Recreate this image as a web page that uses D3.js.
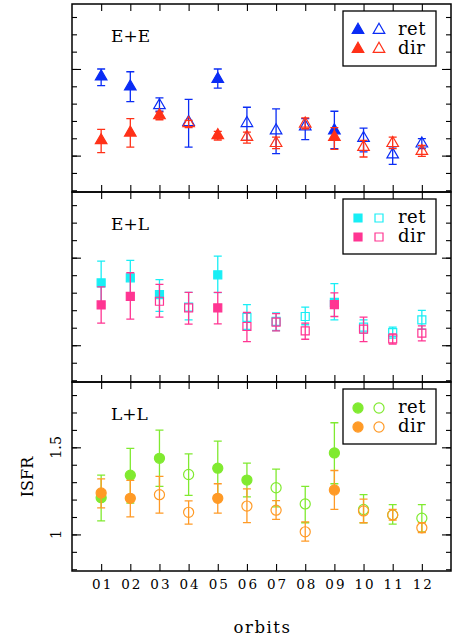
<!DOCTYPE html>
<html>
<head>
<meta charset="utf-8">
<script src="https://cdn.jsdelivr.net/npm/d3@7"></script>
<style>
  body { margin: 0; background: #fff; }
  text { font-family: "DejaVu Serif", serif; fill: #000; }
</style>
</head>
<body>
<svg width="456" height="639"></svg>
<script>
// orbit labels
const orbits = ['01','02','03','04','05','06','07','08','09','10','11','12'];

// E+E
const eeRet      = [1.456, 1.398, 1.290, 1.193, 1.442, 1.187, 1.145, 1.168, 1.145, 1.101, 1.006, 1.069];
const eeRetLo    = [1.404, 1.312, 1.256, 1.049, 1.389, 1.088, 1.011, 1.092, 1.040, 1.021, 0.950, 1.040];
const eeRetHi    = [1.500, 1.484, 1.333, 1.324, 1.500, 1.279, 1.270, 1.213, 1.256, 1.159, 1.050, 1.098];
const eeRetSolid = [1, 1, 0, 0, 1, 0, 0, 0, 1, 0, 0, 0];
const eeDir      = [1.088, 1.132, 1.232, 1.187, 1.117, 1.107, 1.072, 1.184, 1.107, 1.049, 1.072, 1.026];
const eeDirLo    = [1.017, 1.049, 1.207, 1.161, 1.090, 1.072, 1.040, 1.155, 1.036, 0.992, 1.040, 0.996];
const eeDirHi    = [1.151, 1.213, 1.251, 1.203, 1.140, 1.136, 1.107, 1.218, 1.161, 1.088, 1.107, 1.059];
const eeDirSolid = [1, 1, 1, 0, 1, 0, 0, 0, 1, 0, 0, 0];

// E+L
const elRet      = [1.356, 1.385, 1.289, 1.218, 1.402, 1.159, 1.136, 1.164, 1.245, 1.103, 1.072, 1.145];
const elRetLo    = [1.230, 1.280, 1.193, 1.145, 1.300, 1.090, 1.084, 1.117, 1.145, 1.069, 1.040, 1.092];
const elRetHi    = [1.480, 1.485, 1.375, 1.302, 1.509, 1.232, 1.184, 1.218, 1.352, 1.145, 1.103, 1.199];
const elRetSolid = [1, 1, 1, 0, 1, 0, 0, 0, 1, 0, 0, 0];
const elDir      = [1.230, 1.279, 1.251, 1.213, 1.213, 1.107, 1.132, 1.082, 1.232, 1.092, 1.036, 1.069];
const elDirLo    = [1.126, 1.149, 1.161, 1.121, 1.122, 1.021, 1.082, 1.034, 1.164, 1.021, 1.007, 1.025];
const elDirHi    = [1.333, 1.414, 1.347, 1.302, 1.302, 1.187, 1.180, 1.126, 1.299, 1.161, 1.065, 1.111];
const elDirSolid = [1, 1, 0, 0, 1, 0, 0, 0, 1, 0, 0, 0];

// L+L
const llRet      = [1.211, 1.340, 1.437, 1.344, 1.380, 1.312, 1.268, 1.175, 1.468, 1.143, 1.112, 1.093];
const llRetLo    = [1.078, 1.180, 1.276, 1.224, 1.219, 1.215, 1.158, 1.067, 1.291, 1.067, 1.059, 1.015];
const llRetHi    = [1.340, 1.494, 1.599, 1.462, 1.536, 1.409, 1.375, 1.276, 1.641, 1.228, 1.171, 1.171];
const llRetSolid = [1, 1, 1, 0, 1, 1, 0, 0, 1, 0, 0, 0];
const llDir      = [1.238, 1.207, 1.228, 1.127, 1.207, 1.163, 1.139, 1.015, 1.255, 1.135, 1.112, 1.038];
const llDirLo    = [1.152, 1.101, 1.122, 1.059, 1.122, 1.068, 1.086, 0.962, 1.144, 1.067, 1.082, 1.011];
const llDirHi    = [1.319, 1.310, 1.333, 1.192, 1.291, 1.262, 1.194, 1.072, 1.367, 1.203, 1.144, 1.067];
const llDirSolid = [1, 1, 0, 0, 1, 0, 0, 0, 1, 0, 0, 0];

const minorTicks = [0.8, 0.9, 1.0, 1.1, 1.2, 1.3, 1.4, 1.5, 1.6, 1.7, 1.8];
const majorTicks = [1, 1.5];

const svg = d3.select('svg');

const left = 72, right = 451;
const bounds = [[4, 192], [192, 382], [382, 571]];

const series = (val, lo, hi, solid) => val.map((v, i) => ({
  orbit: i + 1, v, lo: lo[i], hi: hi[i], solid: !!solid[i]
}));

const panels = [
  { label: 'E+E', shape: d3.symbolTriangle, size: 58,
    ret: { data: series(eeRet, eeRetLo, eeRetHi, eeRetSolid), color: '#0a2cf5' },
    dir: { data: series(eeDir, eeDirLo, eeDirHi, eeDirSolid), color: '#ff3118' } },
  { label: 'E+L', shape: d3.symbolSquare, size: 64,
    ret: { data: series(elRet, elRetLo, elRetHi, elRetSolid), color: '#18eef5' },
    dir: { data: series(elDir, elDirLo, elDirHi, elDirSolid), color: '#ff3592' } },
  { label: 'L+L', shape: d3.symbolCircle, size: 80,
    ret: { data: series(llRet, llRetLo, llRetHi, llRetSolid), color: '#80ea30' },
    dir: { data: series(llDir, llDirLo, llDirHi, llDirSolid), color: '#ff9a26' } }
];

const xScale = d3.scaleLinear().domain([0, 13]).range([left, right]);

panels.forEach((p, pi) => {
  const [top, bottom] = bounds[pi];
  const yScale = d3.scaleLinear().domain([0.79, 1.875]).range([bottom, top]);
  const g = svg.append('g');

  // ticks, all pointing inward
  const addAxis = (axis, tx, ty) => {
    const a = g.append('g').attr('transform', `translate(${tx},${ty})`).call(axis);
    a.select('.domain').remove();
    a.selectAll('line').attr('stroke', '#000').attr('stroke-width', 1.1);
    return a;
  };
  addAxis(d3.axisLeft(yScale).tickValues(minorTicks).tickSize(-5).tickFormat(''), left, 0);
  addAxis(d3.axisLeft(yScale).tickValues(majorTicks).tickSize(-9).tickFormat(''), left, 0);
  addAxis(d3.axisRight(yScale).tickValues(minorTicks).tickSize(-5).tickFormat(''), right, 0);
  addAxis(d3.axisRight(yScale).tickValues(majorTicks).tickSize(-9).tickFormat(''), right, 0);
  addAxis(d3.axisTop(xScale).tickValues(d3.range(1, 13)).tickSize(-7).tickFormat(''), 0, top);
  const xb = addAxis(d3.axisBottom(xScale).tickValues(d3.range(1, 13)).tickSize(-7)
    .tickFormat(d => pi === 2 ? orbits[d - 1] : ''), 0, bottom);
  xb.selectAll('text')
    .attr('y', 18).attr('dy', 0).attr('dx', 1)
    .style('font-family', '"DejaVu Serif", serif')
    .style('font-size', '13.5px')
    .style('letter-spacing', '2px');

  // frame
  g.append('rect')
    .attr('x', left).attr('y', top)
    .attr('width', right - left).attr('height', bottom - top)
    .attr('fill', 'none').attr('stroke', '#000').attr('stroke-width', 1.5);

  // y labels on bottom panel
  if (pi === 2) {
    g.selectAll('.ylab').data(majorTicks).enter().append('text')
      .attr('transform', d => `translate(61,${yScale(d)}) rotate(-90)`)
      .attr('text-anchor', 'middle')
      .style('font-size', '14.5px')
      .text(d => d);
  }

  // panel label
  g.append('text')
    .attr('x', 111).attr('y', top + 38)
    .style('font-size', '17px')
    .text(p.label);

  const sym = d3.symbol().type(p.shape).size(p.size);

  [p.ret, p.dir].forEach(s => {
    const pts = g.append('g');
    const cap = 4;
    pts.selectAll('.eb').data(s.data).enter().append('path')
      .attr('d', d => {
        const x = xScale(d.orbit), y0 = yScale(d.lo), y1 = yScale(d.hi);
        return `M${x},${y0}V${y1}M${x - cap},${y0}H${x + cap}M${x - cap},${y1}H${x + cap}`;
      })
      .attr('fill', 'none').attr('stroke', s.color).attr('stroke-width', 1.3);
    pts.selectAll('.pt').data(s.data).enter().append('path')
      .attr('transform', d => `translate(${xScale(d.orbit)},${yScale(d.v)})`)
      .attr('d', sym)
      .attr('fill', d => d.solid ? s.color : 'none')
      .attr('stroke', s.color).attr('stroke-width', 1.2);
  });

  // legend
  const lg = g.append('g').attr('transform', `translate(343,${top + 7})`);
  lg.append('rect').attr('width', 93).attr('height', 55)
    .attr('fill', '#fff').attr('stroke', '#000').attr('stroke-width', 1.3);
  [[p.ret, 'ret', 19], [p.dir, 'dir', 38]].forEach(([s, name, yy]) => {
    lg.append('path').attr('transform', `translate(15,${yy})`).attr('d', sym)
      .attr('fill', s.color).attr('stroke', s.color).attr('stroke-width', 1.2);
    lg.append('path').attr('transform', `translate(36,${yy})`).attr('d', sym)
      .attr('fill', 'none').attr('stroke', s.color).attr('stroke-width', 1.2);
    lg.append('text').attr('x', 55).attr('y', yy + 5)
      .style('font-size', '18px').style('letter-spacing', '0.5px').text(name);
  });
});

// axis titles
svg.append('text')
  .attr('transform', `translate(33,${477}) rotate(-90)`)
  .attr('text-anchor', 'middle')
  .style('font-size', '16px')
  .text('ISFR');

svg.append('text')
  .attr('x', (left + right) / 2 + 1).attr('y', 633)
  .attr('text-anchor', 'middle')
  .style('font-size', '16.5px')
  .style('letter-spacing', '1.5px')
  .text('orbits');
</script>
</body>
</html>
